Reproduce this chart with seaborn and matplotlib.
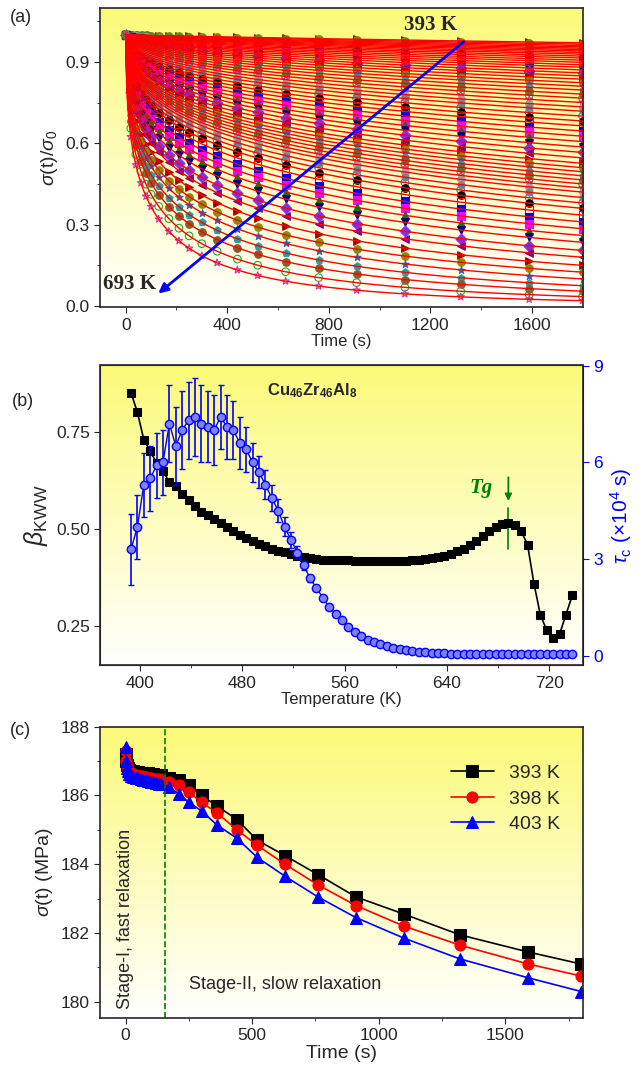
import numpy as np
import pandas as pd
import matplotlib
matplotlib.use('Agg')
import matplotlib.pyplot as plt
import seaborn as sns
from matplotlib.colors import LinearSegmentedColormap

sns.set_style('ticks')
plt.rcParams['font.family'] = ['Liberation Sans', 'DejaVu Sans']
plt.rcParams['mathtext.fontset'] = 'custom'
plt.rcParams['mathtext.rm'] = 'Liberation Sans'
plt.rcParams['mathtext.it'] = 'Liberation Sans:italic'
plt.rcParams['mathtext.bf'] = 'Liberation Sans:bold'

# ---------- panel (a): normalised stress relaxation, 393 K ... 693 K ----------
temps_a = list(range(393, 694, 5))
# sigma/sigma0 read at t = 1800 s, from 393 K (top) to 693 K (bottom)
end_a = [0.970, 0.965, 0.960, 0.955, 0.950, 0.945, 0.940, 0.934, 0.928, 0.921,
         0.914, 0.906, 0.898, 0.889, 0.880, 0.870, 0.859, 0.848, 0.836, 0.823,
         0.810, 0.796, 0.781, 0.766, 0.750, 0.734, 0.718, 0.700, 0.682, 0.664,
         0.645, 0.626, 0.606, 0.586, 0.566, 0.546, 0.526, 0.510, 0.495, 0.480,
         0.465, 0.450, 0.435, 0.420, 0.400, 0.380, 0.360, 0.335, 0.310, 0.285,
         0.260, 0.235, 0.205, 0.180, 0.150, 0.125, 0.100, 0.075, 0.055, 0.035,
         0.020]
# stretching exponent used for each fit curve
beta_a = [0.85, 0.80, 0.73, 0.70, 0.67, 0.65, 0.62, 0.61, 0.59, 0.575,
          0.56, 0.545, 0.535, 0.525, 0.515, 0.505, 0.495, 0.485, 0.478, 0.47,
          0.463, 0.457, 0.45, 0.445, 0.44, 0.435, 0.432, 0.428, 0.425, 0.423,
          0.421, 0.42, 0.42, 0.42, 0.42, 0.42, 0.42, 0.42, 0.42, 0.42,
          0.42, 0.42, 0.42, 0.42, 0.42, 0.42, 0.42, 0.42, 0.42, 0.42,
          0.42, 0.42, 0.42, 0.42, 0.42, 0.42, 0.43, 0.44, 0.45, 0.46,
          0.47]
t_marks_a = [0, 20, 40, 60, 80, 100, 130, 170, 210, 250, 300, 360, 440, 520,
             630, 760, 910, 1100, 1320, 1590, 1800]

# ---------- panel (b): KWW beta and tau_c vs temperature ----------
temps_b = list(range(393, 739, 5))
beta_b = [0.85, 0.80, 0.73, 0.70, 0.67, 0.65, 0.62, 0.61, 0.59, 0.575,
          0.56, 0.545, 0.535, 0.525, 0.515, 0.505, 0.495, 0.485, 0.478, 0.47,
          0.463, 0.457, 0.45, 0.445, 0.44, 0.435, 0.432, 0.428, 0.425, 0.423,
          0.421, 0.42, 0.42, 0.42, 0.42, 0.419, 0.419, 0.418, 0.418, 0.418,
          0.418, 0.418, 0.418, 0.419, 0.42, 0.42, 0.422, 0.425, 0.428, 0.432,
          0.437, 0.443, 0.45, 0.46, 0.47, 0.482, 0.495, 0.505, 0.512, 0.515,
          0.51, 0.495, 0.46, 0.36, 0.28, 0.24, 0.22, 0.23, 0.28, 0.33]
tau_b = [3.3, 4.0, 5.3, 5.5, 5.9, 6.0, 7.2, 6.5, 7.0, 7.3,
         7.4, 7.2, 7.1, 7.0, 7.4, 7.1, 7.0, 6.6, 6.4, 6.0,
         5.7, 5.3, 4.9, 4.5, 4.0, 3.6, 3.2, 2.8, 2.4, 2.1,
         1.8, 1.5, 1.3, 1.1, 0.9, 0.75, 0.62, 0.5, 0.42, 0.35,
         0.3, 0.25, 0.2, 0.17, 0.15, 0.13, 0.11, 0.09, 0.08, 0.07,
         0.065, 0.06, 0.06, 0.055, 0.055, 0.05, 0.05, 0.05, 0.05, 0.05,
         0.05, 0.05, 0.05, 0.05, 0.05, 0.05, 0.05, 0.05, 0.05, 0.05]
tau_err_b = [1.1, 1.0, 1.0, 1.0, 1.0, 1.0, 1.2, 1.2, 1.2, 1.2,
             1.2, 1.2, 1.1, 1.1, 1.0, 1.0, 0.9, 0.8, 0.7, 0.6,
             0.5, 0.45, 0.4, 0.35, 0.3, 0.25, 0.2, 0.15, 0.1, 0.08]
tau_err_b = tau_err_b + [0.05] * (len(temps_b) - len(tau_err_b))

# ---------- panel (c): stress relaxation at 393, 398, 403 K ----------
t_c = [0, 2, 5, 10, 15, 20, 30, 40, 50, 60, 70, 80, 90, 100, 110, 120, 130,
       140, 170, 210, 250, 300, 360, 440, 520, 630, 760, 910, 1100, 1320,
       1590, 1800]
s393 = [187.20, 187.00, 186.90, 186.80, 186.75, 186.72, 186.70, 186.68,
        186.67, 186.66, 186.65, 186.65, 186.64, 186.63, 186.62, 186.61,
        186.60, 186.60, 186.52, 186.45, 186.30, 186.00, 185.70, 185.30,
        184.70, 184.25, 183.70, 183.05, 182.55, 181.95, 181.45, 181.10]
s398 = [187.30, 187.00, 186.85, 186.75, 186.70, 186.66, 186.62, 186.60,
        186.58, 186.56, 186.55, 186.54, 186.52, 186.50, 186.49, 186.48,
        186.47, 186.46, 186.40, 186.30, 186.10, 185.80, 185.50, 185.00,
        184.55, 184.00, 183.40, 182.80, 182.20, 181.65, 181.10, 180.75]
s403 = [187.40, 187.00, 186.80, 186.70, 186.62, 186.58, 186.54, 186.52,
        186.50, 186.48, 186.46, 186.44, 186.42, 186.40, 186.38, 186.36,
        186.34, 186.32, 186.25, 186.05, 185.80, 185.55, 185.15, 184.75,
        184.20, 183.65, 183.05, 182.45, 181.85, 181.25, 180.70, 180.30]

yellow = LinearSegmentedColormap.from_list('yel', ['#ffffff', '#fbfa78'])


def add_bg(ax):
    grad = np.linspace(0, 1, 256).reshape(-1, 1)
    ax.imshow(grad, extent=[0, 1, 0, 1], transform=ax.transAxes, aspect='auto',
              cmap=yellow, origin='lower', zorder=-10)


fig = plt.figure(figsize=(6.43, 10.75), dpi=100)
ax_a = fig.add_axes([0.156, 0.714, 0.75, 0.279])
ax_b = fig.add_axes([0.156, 0.381, 0.75, 0.279])
ax_c = fig.add_axes([0.156, 0.053, 0.75, 0.271])

# ---- (a) ----
add_bg(ax_a)
# marker styles counted from the hottest (lowest) curve upwards
styles = [('*', '#cc3399', True), ('o', '#22aa22', True), ('o', '#8b5a2b', False),
          ('p', '#1f9fa8', False), ('*', '#3060c0', False), ('o', '#8b8b00', False),
          ('>', '#aa0000', False), ('<', '#800080', False), ('D', '#8a2be2', False),
          ('v', '#000080', False), ('^', '#008000', False), ('s', '#ff00ff', False),
          ('s', '#0000ff', False), ('s', '#ff0000', True), ('o', '#000000', False),
          ('o', '#4080c0', True), ('h', '#808080', False), ('o', '#a0a0a0', False)]
tt = np.linspace(0, 1800, 400)
tm = np.array(t_marks_a, dtype=float)
for i, (T, v, b) in enumerate(zip(temps_a, end_a, beta_a)):
    tau = 1800.0 / (-np.log(v)) ** (1.0 / b)
    ax_a.plot(tt, np.exp(-(tt / tau) ** b), color='red', lw=1.0, zorder=3)
    k = len(temps_a) - 1 - i
    mk, col, hollow = styles[k % len(styles)]
    ax_a.scatter(tm, np.exp(-(tm / tau) ** b), marker=mk, s=30,
                 facecolors='none' if hollow else col, edgecolors=col,
                 linewidths=0.8, zorder=2)
ax_a.annotate('', xy=(120, 0.04), xytext=(1340, 0.98),
              arrowprops=dict(arrowstyle='-|>', color='blue', lw=2, mutation_scale=14),
              zorder=5)
ax_a.text(1200, 1.0, '393 K', fontsize=15, fontweight='bold', family='Liberation Serif',
          ha='center', va='bottom', zorder=6)
ax_a.text(-90, 0.08, '693 K', fontsize=15, fontweight='bold', family='Liberation Serif',
          ha='left', va='center', zorder=6)
ax_a.set_xlim(-100, 1800)
ax_a.set_ylim(-0.005, 1.1)
ax_a.set_xticks([0, 400, 800, 1200, 1600])
ax_a.set_xticks([200, 600, 1000, 1400], minor=True)
ax_a.set_yticks([0.0, 0.3, 0.6, 0.9])
ax_a.set_yticks([0.15, 0.45, 0.75, 1.05], minor=True)
ax_a.set_xlabel('Time (s)', fontsize=12, labelpad=1)
ax_a.set_ylabel(r'$\sigma$(t)/$\sigma_0$', fontsize=14)

# ---- (b) ----
add_bg(ax_b)
ax_r = ax_b.twinx()
df_b = pd.DataFrame({'T': temps_b, 'beta': beta_b, 'tau': tau_b, 'err': tau_err_b})
sns.lineplot(data=df_b, x='T', y='beta', ax=ax_b, color='black', marker='s',
             markersize=6, markeredgecolor='black', lw=1.2, zorder=4)
ax_r.errorbar(df_b['T'], df_b['tau'], yerr=df_b['err'], color='blue', lw=1.0,
              marker='o', markersize=6, markerfacecolor='#7f7fff',
              markeredgecolor='blue', ecolor='blue', elinewidth=1.2, capsize=2)
ax_b.set_xlim(369, 746)
ax_b.set_ylim(0.15, 0.92)
ax_r.set_ylim(-0.3, 9)
ax_b.set_xticks([400, 480, 560, 640, 720])
ax_b.set_xticks([440, 520, 600, 680], minor=True)
ax_b.set_yticks([0.25, 0.5, 0.75])
ax_r.set_yticks([0, 3, 6, 9])
ax_r.tick_params(axis='y', colors='blue', labelsize=12.5)
ax_r.spines['right'].set_color('blue')
ax_r.set_ylabel(r'$\tau_{\rm c}$ (×10$^4$ s)', color='blue', fontsize=15)
ax_b.set_xlabel('Temperature (K)', fontsize=12, labelpad=1)
ax_b.set_ylabel(r'$\beta_{\rm KWW}$', fontsize=18)
ax_b.text(535, 0.855, r'$\mathbf{Cu_{46}Zr_{46}Al_8}$', fontsize=12, ha='center', va='center')
ax_b.plot([688, 688], [0.45, 0.555], color='green', lw=1.2)
ax_b.annotate('', xy=(688, 0.565), xytext=(688, 0.64),
              arrowprops=dict(arrowstyle='-|>', color='green', lw=1.3))
ax_b.text(676, 0.605, 'Tg', color='green', fontsize=15, fontweight='bold',
          style='italic', family='Liberation Serif', ha='right', va='center')

# ---- (c) ----
add_bg(ax_c)
df_c = pd.concat([
    pd.DataFrame({'t': t_c, 's': s393, 'T': '393 K'}),
    pd.DataFrame({'t': t_c, 's': s398, 'T': '398 K'}),
    pd.DataFrame({'t': t_c, 's': s403, 'T': '403 K'}),
])
sns.lineplot(data=df_c, x='t', y='s', hue='T', style='T',
             palette=['black', 'red', 'blue'], markers=['s', 'o', '^'],
             dashes=False, markersize=8, markeredgecolor=None, lw=1.2, ax=ax_c)
ax_c.axvline(155, color='green', ls='--', lw=1.2)
ax_c.text(0, 179.8, 'Stage-I, fast relaxation', rotation=90, fontsize=13,
          ha='center', va='bottom')
ax_c.text(250, 180.5, 'Stage-II, slow relaxation', fontsize=13, ha='left', va='center')
ax_c.legend(loc='upper right', frameon=False, fontsize=14,
            bbox_to_anchor=(0.99, 0.93), handlelength=2.2, labelspacing=0.4)
ax_c.set_xlim(-100, 1805)
ax_c.set_ylim(179.53, 188)
ax_c.set_xticks([0, 500, 1000, 1500])
ax_c.set_xticks([250, 750, 1250, 1750], minor=True)
ax_c.set_yticks([180, 182, 184, 186, 188])
ax_c.set_yticks([181, 183, 185, 187], minor=True)
ax_c.set_xlabel('Time (s)', fontsize=14, labelpad=1)
ax_c.set_ylabel(r'$\sigma$(t) (MPa)', fontsize=14)

for ax in (ax_a, ax_b, ax_c):
    ax.tick_params(labelsize=12.5, direction='out', length=4)
    ax.tick_params(which='minor', length=2.5)
    for s in ax.spines.values():
        s.set_linewidth(1.2)
ax_r.tick_params(direction='out', length=4)

fig.text(0.015, 0.98, '(a)', fontsize=13)
fig.text(0.018, 0.622, '(b)', fontsize=13)
fig.text(0.015, 0.316, '(c)', fontsize=13)

fig.savefig('out.png', dpi=100)
